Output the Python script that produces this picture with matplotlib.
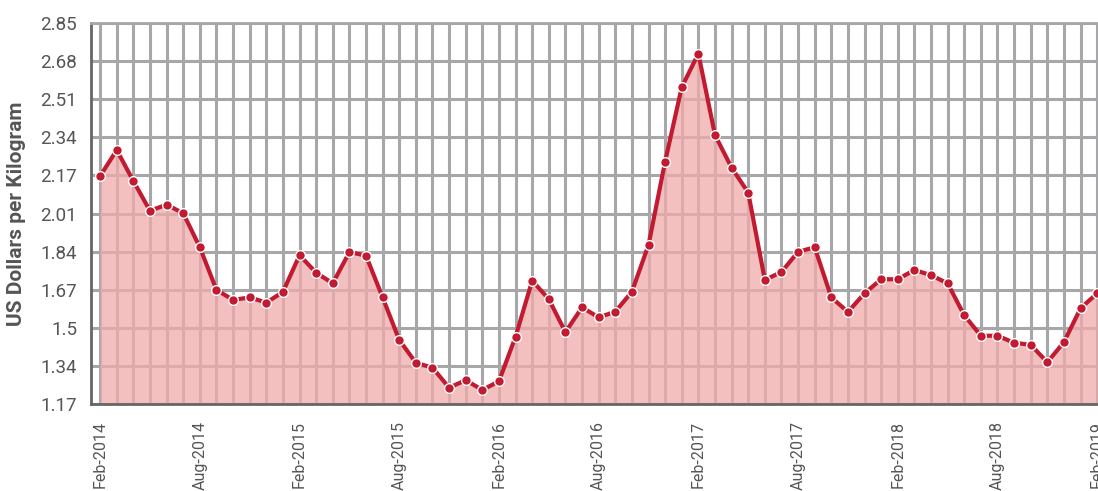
import numpy as np
import matplotlib
matplotlib.use("Agg")
import matplotlib.pyplot as plt
from matplotlib.ticker import FixedLocator, MultipleLocator

# monthly prices, Feb-2014 .. Feb-2019
prices = [
    2.175, 2.290, 2.153, 2.022, 2.049, 2.011, 1.861, 1.673, 1.629, 1.640, 1.617,  # 2014
    1.664, 1.826, 1.749, 1.702, 1.840, 1.824, 1.640, 1.452, 1.352, 1.330, 1.242, 1.275,  # 2015
    1.232, 1.270, 1.467, 1.714, 1.632, 1.487, 1.596, 1.552, 1.577, 1.665, 1.871, 2.239,  # 2016
    2.567, 2.715, 2.356, 2.212, 2.102, 1.717, 1.752, 1.841, 1.861, 1.640, 1.576, 1.658,  # 2017
    1.720, 1.720, 1.761, 1.738, 1.702, 1.561, 1.471, 1.471, 1.440, 1.431, 1.354, 1.443,  # 2018
    1.592, 1.658,  # 2019
]
tick_labels = ["Feb-2014", "Aug-2014", "Feb-2015", "Aug-2015", "Feb-2016", "Aug-2016",
               "Feb-2017", "Aug-2017", "Feb-2018", "Aug-2018", "Feb-2019"]
y_labels = ["1.17", "1.34", "1.5", "1.67", "1.84", "2.01", "2.17", "2.34", "2.51", "2.68", "2.85"]

plt.rcParams['font.family'] = ['Roboto', 'DejaVu Sans']

fig = plt.figure(figsize=(10.98, 4.91), dpi=100)
ax = fig.add_axes([91 / 1098, 87 / 491, (1103 - 91) / 1098, (404 - 23) / 491])

x = np.arange(len(prices))
ymin, ymax = 1.17, 2.85

ax.fill_between(x, prices, ymin, color=(0.94, 0.67, 0.665), alpha=0.75, lw=0, zorder=2)
ax.plot(x, prices, color='#c21a30', lw=3, zorder=3,
        marker='o', markersize=7, markerfacecolor='#c21a30',
        markeredgecolor='white', markeredgewidth=1.0)

ax.set_xlim(-0.55, 60.35)
ax.set_ylim(ymin, ymax)

ax.xaxis.set_major_locator(FixedLocator(np.arange(0, 61, 6)))
ax.xaxis.set_minor_locator(MultipleLocator(1))
ax.set_xticklabels(tick_labels, rotation=90, fontsize=11.5, color='#555555')
ax.set_yticks(np.linspace(ymin, ymax, 11))
ax.set_yticklabels(y_labels, fontsize=13.5, color='#555555')
ax.tick_params(which='both', length=0)
ax.tick_params(axis='x', pad=12)
ax.tick_params(axis='y', pad=10)

ax.grid(which='both', axis='x', color='#a7a7aa', lw=2.2, zorder=0)
ax.grid(which='major', axis='y', color='#a7a7aa', lw=2.2, zorder=0)
ax.set_axisbelow(True)

for side in ['left', 'bottom']:
    ax.spines[side].set_color('#666666')
    ax.spines[side].set_linewidth(2)
ax.spines['right'].set_visible(False)
ax.spines['top'].set_color('#a7a7aa')
ax.spines['top'].set_linewidth(2)

ax.set_ylabel("US Dollars per Kilogram", fontsize=15, fontweight='bold', color='#555555', labelpad=10)

fig.savefig("out.png", dpi=100)
